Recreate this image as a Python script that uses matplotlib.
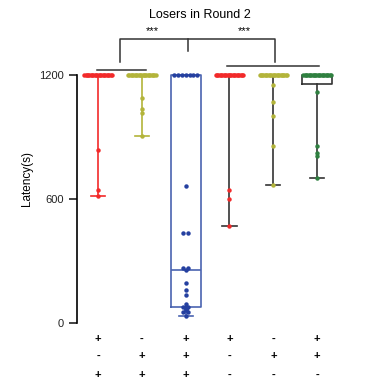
import numpy as np
import matplotlib
matplotlib.use("Agg")
import matplotlib.pyplot as plt

plt.rcParams['font.family'] = ['Liberation Sans', 'DejaVu Sans']

# per-group summary (seconds)
whislo = [617, 905, 32, 470, 668, 701]
q1 = [1200, 1200, 78, 1200, 1200, 1155]
med = [1200, 1200, 256, 1200, 1200, 1200]
q3 = [1200, 1200, 1200, 1200, 1200, 1200]
whishi = [1200, 1200, 1200, 1200, 1200, 1200]

# individual animals
pts1 = [1200] * 22 + [837, 643, 617]
pts2 = [1200] * 22 + [1087, 1035, 1017, 905]
pts3 = [1200] * 7 + [663, 435, 435, 265, 265, 256, 193, 161, 134,
                     90, 78, 76, 76, 70, 66, 62, 55, 55, 32]
pts4 = [1200] * 22 + [643, 600, 470]
pts5 = [1200] * 22 + [1151, 1068, 1000, 856, 668]
pts6 = [1200] * 22 + [1116, 856, 821, 809, 701]

row1 = ['+', '-', '+', '+', '-', '+']
row2 = ['-', '+', '+', '-', '+', '+']
row3 = ['+', '+', '+', '-', '-', '-']

pt_colors = ['#f22a2a', '#b3b43a', '#2540a0', '#f22a2a', '#b3b43a', '#2f8040']
line_colors = ['#f22a2a', '#b3b43a', '#4a64b0', '#333333', '#333333', '#333333']
box_w = [0.3, 0.3, 0.68, 0.3, 0.3, 0.68]

fig = plt.figure(figsize=(3.87, 3.80), dpi=100)
ax = fig.add_axes([77 / 387, 57 / 380, 273 / 387, 289.3 / 380])

pos = np.arange(1, 7)
stats = []
for i in range(6):
    stats.append(dict(med=med[i], q1=q1[i], q3=q3[i], whislo=whislo[i],
                      whishi=whishi[i], fliers=[]))

for i in range(6):
    c = line_colors[i]
    ax.bxp([stats[i]], positions=[pos[i]], widths=box_w[i], showfliers=False,
           showcaps=True, patch_artist=False,
           boxprops=dict(color=c, lw=1.2),
           whiskerprops=dict(color=c, lw=1.2),
           capprops=dict(color=c, lw=1.2),
           medianprops=dict(color=c, lw=1.2),
           capwidths=0.32)


def swarm(vals, center, step=0.045, maxw=0.32):
    xs = []
    vals = np.asarray(vals, dtype=float)
    for v in np.unique(vals):
        n = int(np.sum(vals == v))
        if n == 1:
            xs += [(v, center)]
        else:
            st = step if n > 2 else 0.11
            half = min((n - 1) * st / 2, maxw)
            for x in np.linspace(center - half, center + half, n):
                xs += [(v, x)]
    return xs


all_pts = [pts1, pts2, pts3, pts4, pts5, pts6]
for i, p in enumerate(all_pts):
    step = 0.088 if i == 2 else 0.03
    maxw = 0.27 if i == 2 else 0.33
    s = swarm(p, pos[i], step=step, maxw=maxw)
    ax.plot([x for v, x in s], [v for v, x in s], 'o', ms=3.2,
            color=pt_colors[i], mec='none', zorder=5)

ax.set_xlim(0.52, 6.75)
ax.set_ylim(0, 1400)
ax.spines['top'].set_visible(False)
ax.spines['right'].set_visible(False)
ax.spines['bottom'].set_visible(False)
ax.spines['left'].set_bounds(0, 1200)
ax.spines['left'].set_linewidth(1.2)
ax.set_yticks([0, 600, 1200])
ax.tick_params(axis='y', length=6, width=1.2, labelsize=8, colors='#222222')
ax.set_xticks([])
ax.set_ylabel('Latency(s)', fontsize=8.5, labelpad=4)

# +/- condition rows
for row, y in zip([row1, row2, row3], [-77, -159, -252]):
    for x, s in zip(pos, row):
        ax.text(x, y, s, ha='center', va='center', fontsize=8,
                fontweight='bold', clip_on=False)

# significance brackets
lk = dict(color='#333333', lw=1.1, clip_on=False)
ax.plot([0.98, 2.1], [1226, 1226], **lk)
ax.plot([3.95, 6.05], [1246, 1246], **lk)
ax.plot([1.5, 1.5, 5.04, 5.04], [1263, 1374, 1374, 1263], **lk)
ax.plot([3.05, 3.05], [1374, 1316], **lk)
ax.text(2.23, 1415, '***', ha='center', va='center', fontsize=8, clip_on=False)
ax.text(4.33, 1415, '***', ha='center', va='center', fontsize=8, clip_on=False)

fig.text(200 / 387, 1 - 15 / 380, 'Losers in Round 2', ha='center',
         va='center', fontsize=9)

fig.savefig('out.png', dpi=100)
